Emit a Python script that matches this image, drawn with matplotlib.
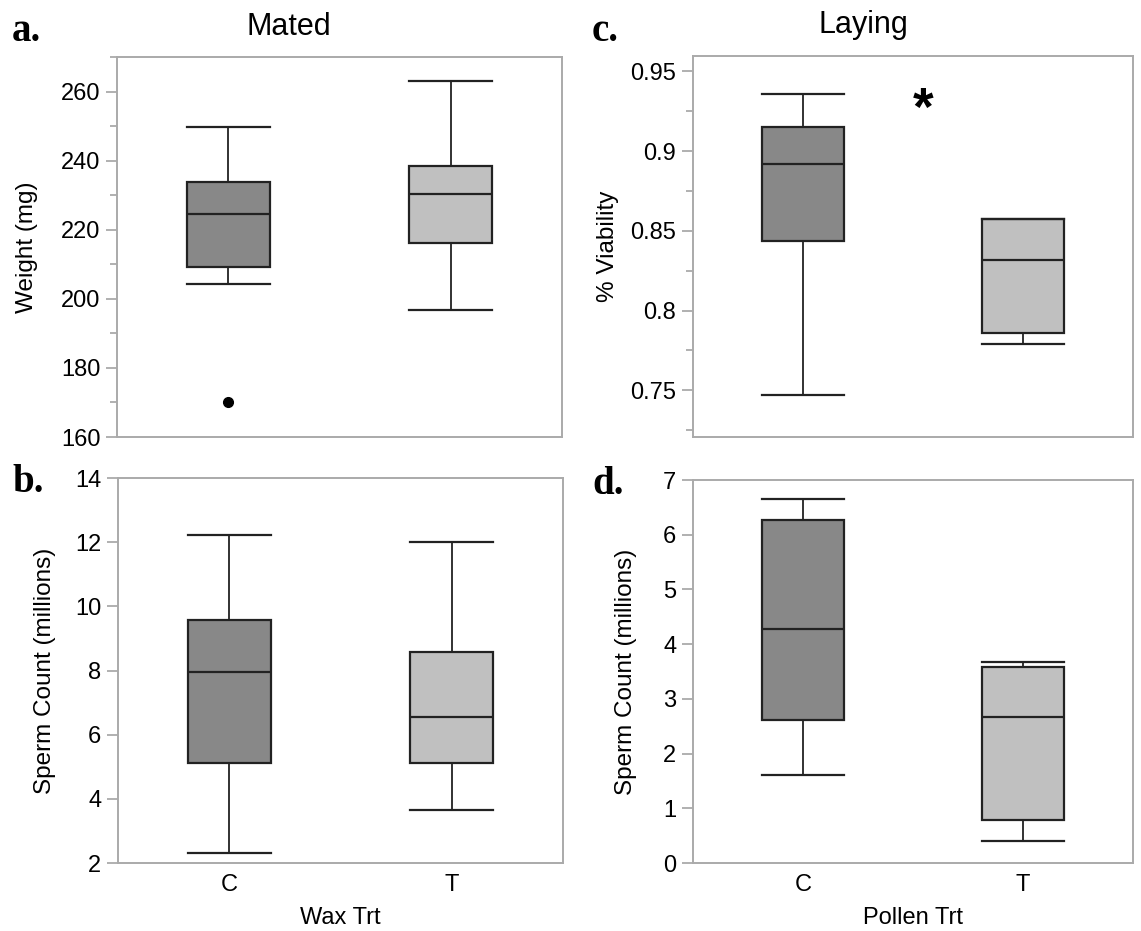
import matplotlib
matplotlib.use("Agg")
import matplotlib.pyplot as plt
from matplotlib.ticker import MultipleLocator

plt.rcParams['font.family'] = ['Liberation Sans', 'DejaVu Sans']

groups = ["C", "T"]

# box stats: (lower whisker, Q1, median, Q3, upper whisker)
weight_mated = [(204.3, 209.2, 224.6, 233.9, 249.6), (196.9, 216.2, 230.4, 238.4, 263.0)]
weight_outliers = [[170.2], []]
sperm_mated = [(2.32, 5.11, 7.95, 9.58, 12.21), (3.66, 5.11, 6.55, 8.58, 12.0)]
viability_laying = [(0.7471, 0.8439, 0.8917, 0.915, 0.936), (0.7789, 0.786, 0.8319, 0.8573, 0.8573)]
sperm_laying = [(1.612, 2.614, 4.275, 6.267, 6.652), (0.41, 0.79, 2.66, 3.59, 3.665)]

box_colors = ["#888888", "#c0c0c0"]
frame_col = "#aaaaaa"
W, H = 1141, 931

fig = plt.figure(figsize=(W / 100, H / 100), dpi=100)


def make_stats(vals, outs=None):
    res = []
    for i, (lo, q1, med, q3, hi) in enumerate(vals):
        res.append(dict(whislo=lo, q1=q1, med=med, q3=q3, whishi=hi,
                        fliers=(outs[i] if outs else []), label=groups[i]))
    return res


def panel(px, vals, ylim, major, minor, ylabel, ylab_x, outs=None, xlab=None, showx=False):
    l, r, t, b = px
    ax = fig.add_axes([l / W, 1 - b / H, (r - l) / W, (b - t) / H])
    bp = ax.bxp(make_stats(vals, outs), positions=[1, 2], widths=0.375,
                patch_artist=True, showfliers=True,
                boxprops=dict(edgecolor="#222222", linewidth=1.6),
                medianprops=dict(color="#222222", linewidth=1.6),
                whiskerprops=dict(color="#222222", linewidth=1.3),
                capprops=dict(color="#222222", linewidth=1.6),
                flierprops=dict(marker="o", markerfacecolor="black",
                                markeredgecolor="black", markersize=7))
    for i, bx in enumerate(bp["boxes"]):
        bx.set_facecolor(box_colors[i])
    for c in bp["caps"]:
        x = c.get_xdata()
        m = (x[0] + x[1]) / 2
        c.set_xdata([m - 0.1875, m + 0.1875])
    ax.set_xlim(0.5, 2.5)
    ax.yaxis.set_major_locator(MultipleLocator(major))
    if minor:
        ax.yaxis.set_minor_locator(MultipleLocator(minor))
    ax.set_ylim(*ylim)
    for s in ax.spines.values():
        s.set_color(frame_col)
        s.set_linewidth(1.4)
    ax.tick_params(axis="y", which="both", direction="out", color=frame_col,
                   labelsize=17, labelcolor="black", width=1.3, pad=4)
    ax.tick_params(axis="y", which="major", length=8)
    ax.tick_params(axis="y", which="minor", length=5)
    if showx:
        ax.set_xticks([1, 2])
        ax.set_xticklabels(groups)
        ax.tick_params(axis="x", length=0, labelsize=17, pad=8)
    else:
        ax.set_xticks([])
    ax.set_ylabel(ylabel, fontsize=17.5)
    ax.yaxis.set_label_coords(ylab_x, 0.5)
    if xlab:
        ax.set_xlabel(xlab, fontsize=17, labelpad=8)
    return ax


# a
axa = panel((117, 562, 57, 437), weight_mated, (160, 270), 20, 10,
            "Weight (mg)", -0.178, outs=weight_outliers)
axa.text(0.386, 1.058, "Mated", transform=axa.transAxes, fontsize=22,
         ha="center", va="baseline")

# b
axb = panel((118, 563, 478, 863), sperm_mated, (2, 14), 2, None,
            "Sperm Count (millions)", -0.139, xlab="Wax Trt", showx=True)

# c
axc = panel((693, 1133, 56, 437), viability_laying, (0.7207, 0.9596), 0.05, 0.025,
            "% Viability", -0.168)
ticks = [0.75, 0.8, 0.85, 0.9, 0.95]
axc.set_yticks(ticks)
axc.set_yticklabels(["%g" % t for t in ticks])
axc.set_ylim(0.7207, 0.9596)
axc.text(0.388, 1.06, "Laying", transform=axc.transAxes, fontsize=22,
         ha="center", va="baseline")
axc.text(1.545, 0.925, "*", fontsize=38, ha="center", va="center", fontweight="bold")

# d
axd = panel((693, 1133, 480, 863), sperm_laying, (0, 7), 1, None,
            "Sperm Count (millions)", -0.127, xlab="Pollen Trt", showx=True)

# panel letters
for lbl, x, y in [("a.", 12, 41), ("b.", 12, 492), ("c.", 592, 41), ("d.", 592, 494)]:
    fig.text(x / W, 1 - y / H, lbl, fontsize=28, fontweight="bold",
             family=["Liberation Serif", "DejaVu Serif"], ha="left", va="baseline")

fig.savefig("out.png", dpi=100)
